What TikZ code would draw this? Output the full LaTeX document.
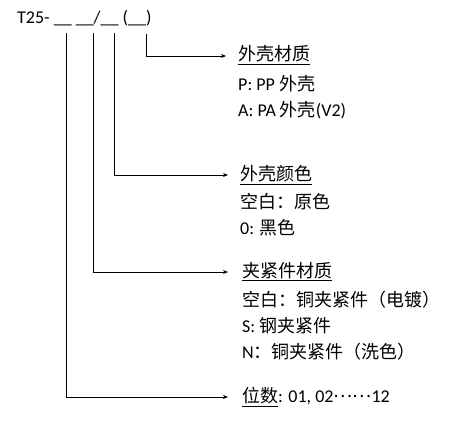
\documentclass[tikz,border=0pt]{standalone}
\usepackage{fontspec}
\setmainfont{Carlito}
\newfontfamily\cjk{Noto Sans CJK SC}
\usetikzlibrary{arrows.meta,calc}
\begin{document}
\begin{tikzpicture}[x=1pt,y=-1pt,
  txt/.style={anchor=west,inner sep=0pt,font=\fontsize{18}{21}\selectfont},
  conn/.style={line width=0.8pt,-{Stealth[length=5pt,width=4pt]}}]
\useasboundingbox (0,0) rectangle (471,434);
\node[txt] (hdr) at (17,18) {T25- \_\_\ \_\_/\_\_ (\_\_)};
% vertical starts
\coordinate (v1) at (66,33);
\coordinate (v2) at (93,33);
\coordinate (v3) at (114,33);
\coordinate (v4) at (146,34);
% group 1
\node[txt] (h1) at (238,55) {\underline{\cjk 外壳材质}};
\node[txt] (a1) at (238,84) {P: PP {\cjk 外壳}};
\node[txt] (b1) at (238,110) {A: PA {\cjk 外壳}(V2)};
% group 2
\node[txt] (h2) at (240,175) {\underline{\cjk 外壳颜色}};
\node[txt] (a2) at (240,202) {{\cjk 空白：原色}};
\node[txt] (b2) at (240,228) {0: {\cjk 黑色}};
% group 3
\node[txt] (h3) at (242,272) {\underline{\cjk 夹紧件材质}};
\node[txt] (a3) at (242,300) {{\cjk 空白：铜夹紧件（电镀）}};
\node[txt] (b3) at (242,326) {S: {\cjk 钢夹紧件}};
\node[txt] (c3) at (242,352) {N{\cjk ：铜夹紧件（洗色）}};
% group 4
\node[txt] (h4) at (242,397) {\underline{\cjk 位数}: 01, 02\raisebox{0.3em}{\cjk ……}12};
% connectors
\draw[conn] (v4) |- ($(h1.west)+(-12,1)$);
\draw[conn] (v3) |- ($(h2.west)+(-12,0)$);
\draw[conn] (v2) |- ($(h3.west)+(-14,0)$);
\draw[conn] (v1) |- ($(h4.west)+(-14,0)$);
\end{tikzpicture}
\end{document}
